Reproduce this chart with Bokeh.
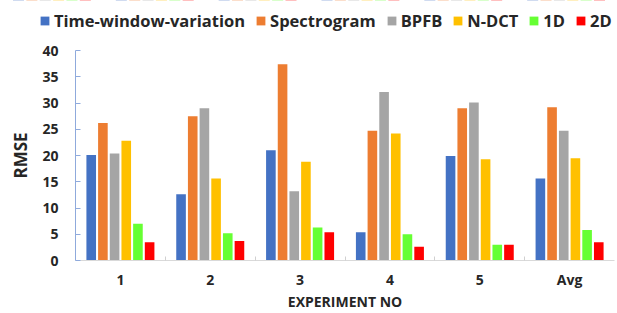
import numpy as np
from bokeh.plotting import figure
from bokeh.layouts import column
from bokeh.models import ColumnDataSource, FixedTicker, Legend, LegendItem, Range1d
from bokeh.transform import dodge
from bokeh.embed import file_html
from bokeh.resources import INLINE

categories = ["1", "2", "3", "4", "5", "Avg"]
series_names = ["Time-window-variation", "Spectrogram", "BPFB", "N-DCT", "1D", "2D"]
time_window = [20.1, 12.6, 21.0, 5.4, 19.9, 15.6]
spectrogram = [26.2, 27.5, 37.4, 24.7, 29.0, 29.2]
bpfb = [20.4, 29.0, 13.2, 32.1, 30.1, 24.7]
ndct = [22.8, 15.6, 18.8, 24.2, 19.3, 19.5]
one_d = [7.0, 5.2, 6.3, 5.0, 3.0, 5.8]
two_d = [3.5, 3.7, 5.4, 2.6, 3.0, 3.5]
y_ticks = [0, 5, 10, 15, 20, 25, 30, 35, 40]

colors = ["#4472C4", "#ED7D31", "#A5A5A5", "#FFC000", "#66FF33", "#FF0000"]
values = [time_window, spectrogram, bpfb, ndct, one_d, two_d]

FONT = "Open Sans"
TXT = "#262626"
pos = np.arange(1, len(categories) + 1)
data = {"x": pos}
for i, v in enumerate(values):
    data[f"s{i}"] = v
src = ColumnDataSource(data)

slot = 0.13
bw = 0.107

# ---------- legend strip (full width, above the chart) ----------
# its y range lies below zero, so the bars drawn here are out of view and
# only serve as legend swatches
lf = figure(width=617, height=38, output_backend="svg", toolbar_location=None,
            x_axis_location=None, y_axis_location=None,
            x_range=Range1d(0.5, len(categories) + 0.5), y_range=Range1d(-2, -1),
            min_border_left=0, min_border_right=0, min_border_top=0, min_border_bottom=0)
lf.frame_align = False
lf.outline_line_color = None
lf.xgrid.grid_line_color = None
lf.ygrid.grid_line_color = None

items = []
for i, name in enumerate(series_names):
    off = (i - (len(series_names) - 1) / 2) * slot
    r = lf.vbar(x=dodge("x", off), top=f"s{i}", width=bw, source=src,
                fill_color=colors[i], line_color=None)
    items.append(LegendItem(label=name, renderers=[r]))

legend = Legend(items=items, orientation="horizontal", location=(39, 6),
                margin=0, padding=0, spacing=10, label_standoff=4,
                glyph_width=11, glyph_height=11,
                border_line_color=None, background_fill_alpha=0,
                label_text_font=FONT, label_text_font_style="bold",
                label_text_font_size="16.5px", label_text_color=TXT)
lf.add_layout(legend, "center")

# ---------- main chart ----------
p = figure(width=617, height=275, output_backend="svg", toolbar_location=None,
           x_range=Range1d(0.5, len(categories) + 0.5), y_range=Range1d(0, 40),
           min_border_left=75, min_border_right=3, min_border_top=12, min_border_bottom=40)
p.frame_align = False
p.outline_line_color = None
p.xgrid.grid_line_color = None
p.ygrid.grid_line_color = None
p.background_fill_color = "white"

for i, name in enumerate(series_names):
    off = (i - (len(series_names) - 1) / 2) * slot
    p.vbar(x=dodge("x", off), top=f"s{i}", width=bw, source=src,
           fill_color=colors[i], line_color=None)

# x axis
xa = p.xaxis[0]
xa.ticker = FixedTicker(ticks=list(pos), minor_ticks=list(pos[:-1] + 0.5))
xa.major_label_overrides = {int(k): c for k, c in zip(pos, categories)}
xa.major_tick_line_color = None
xa.major_tick_in = 0
xa.major_tick_out = 0
xa.minor_tick_in = 4
xa.minor_tick_out = 0
xa.minor_tick_line_color = "#D0D0D0"
xa.axis_line_color = "#D9D9D9"
xa.major_label_text_font = FONT
xa.major_label_text_font_style = "bold"
xa.major_label_text_font_size = "14px"
xa.major_label_text_color = TXT
xa.major_label_standoff = 9
xa.axis_label = "EXPERIMENT NO"
xa.axis_label_text_font = FONT
xa.axis_label_text_font_style = "bold"
xa.axis_label_text_font_size = "14px"
xa.axis_label_text_color = TXT
xa.axis_label_standoff = 0

# y axis
ya = p.yaxis[0]
ya.ticker = FixedTicker(ticks=y_ticks)
ya.axis_line_color = "#8FAADC"
ya.major_tick_line_color = "#8FAADC"
ya.major_tick_in = 5
ya.major_tick_out = 0
ya.minor_tick_line_color = None
ya.major_label_text_font = FONT
ya.major_label_text_font_style = "bold"
ya.major_label_text_font_size = "14px"
ya.major_label_text_color = TXT
ya.major_label_standoff = 17
ya.axis_label = "RMSE"
ya.axis_label_text_font = FONT
ya.axis_label_text_font_style = "bold"
ya.axis_label_text_font_size = "17px"
ya.axis_label_text_color = TXT
ya.axis_label_standoff = 7

layout = column(lf, p, spacing=0)
open("out.html", "w").write(file_html(layout, INLINE))
